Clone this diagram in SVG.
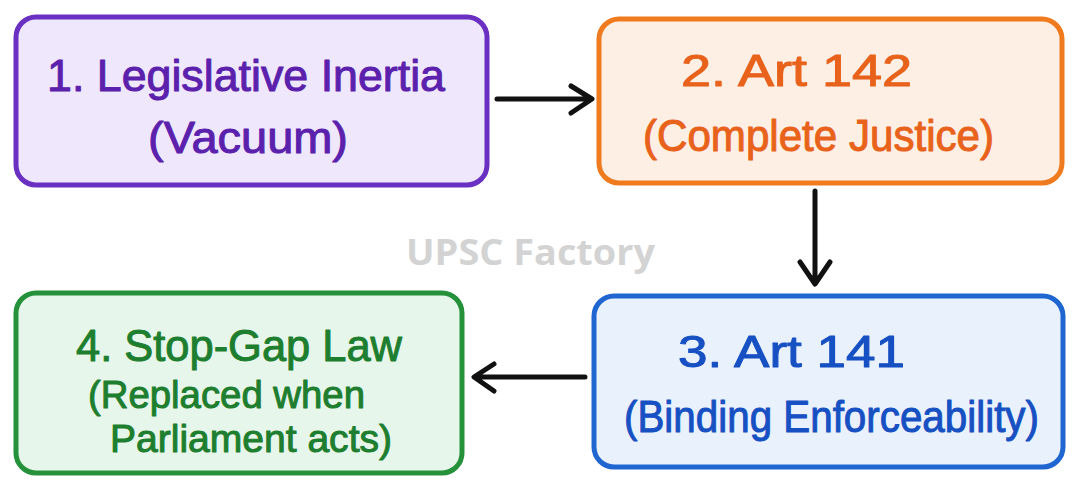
<svg xmlns="http://www.w3.org/2000/svg" width="1080" height="489" viewBox="0 0 1080 489">
<style>
.box{stroke-width:5;stroke-linejoin:round}
.t{font-family:"Liberation Sans","Noto Sans",sans-serif;font-size:44px;stroke-width:1;stroke-linejoin:round}
.s{font-size:38px}
.p{fill:#5b21ad;stroke:#5b21ad}
.o{fill:#e8621b;stroke:#e8621b}
.b{fill:#1650c2;stroke:#1650c2}
.g{fill:#1e7e2f;stroke:#1e7e2f}
.conn{fill:none;stroke:#111;stroke-width:5;stroke-linecap:round;stroke-linejoin:round}
.wm{font-family:"Open Sans","Liberation Sans",sans-serif;font-size:35px;font-weight:700;fill:#d3d3d3}
</style>
<rect width="1080" height="489" fill="#ffffff"/>
<text class="wm" x="406" y="265" textLength="249" lengthAdjust="spacingAndGlyphs">UPSC Factory</text>
<g id="node1">
<rect class="box" x="16" y="17" width="471" height="168" rx="20" fill="#efe7fb" stroke="#6a30c2"/>
<text class="t p" x="47" y="91" textLength="398" lengthAdjust="spacingAndGlyphs">1. Legislative Inertia</text>
<text class="t p" x="148" y="153" textLength="200" lengthAdjust="spacingAndGlyphs">(Vacuum)</text>
</g>
<g id="node2">
<rect class="box" x="599" y="19" width="463" height="164" rx="20" fill="#fdefe3" stroke="#f07b1e"/>
<text class="t o" x="681" y="86" textLength="231" lengthAdjust="spacingAndGlyphs">2. Art 142</text>
<text class="t o" x="643" y="151" textLength="351" lengthAdjust="spacingAndGlyphs">(Complete Justice)</text>
</g>
<g id="node3">
<rect class="box" x="594" y="296" width="469" height="171" rx="20" fill="#e9f1fd" stroke="#1f66d1"/>
<text class="t b" x="678" y="367" textLength="227" lengthAdjust="spacingAndGlyphs">3. Art 141</text>
<text class="t b" x="624" y="432" textLength="415" lengthAdjust="spacingAndGlyphs">(Binding Enforceability)</text>
</g>
<g id="node4">
<rect class="box" x="16" y="293" width="446" height="180" rx="20" fill="#e7f6ea" stroke="#25923b"/>
<text class="t g" x="76" y="361" textLength="326" lengthAdjust="spacingAndGlyphs">4. Stop-Gap Law</text>
<text class="t s g" x="88" y="408" textLength="277" lengthAdjust="spacingAndGlyphs">(Replaced when</text>
<text class="t s g" x="110" y="452" textLength="282" lengthAdjust="spacingAndGlyphs">Parliament acts)</text>
</g>
<g id="connectors">
<path class="conn" d="M497 99 H590 M571 86 L592 99 L571 113"/>
<path class="conn" d="M815 191 V283 M800 262 L815 284 L830 262"/>
<path class="conn" d="M585 377 H476 M494 364 L474 377 L494 391"/>
</g>
</svg>
